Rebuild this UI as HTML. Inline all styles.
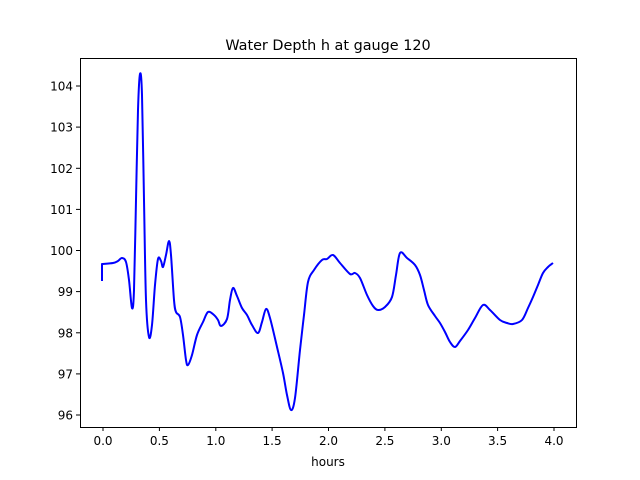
<!DOCTYPE html>
<html><head><meta charset="utf-8"><style>body{margin:0;background:#fff}svg{display:block}text{font-family:"DejaVu Sans","Liberation Sans",sans-serif;fill:#000}</style></head>
<body>
<svg width="640" height="480" viewBox="0 0 640 480">
<rect width="640" height="480" fill="#fff"/>
<polyline id="pl" fill="none" stroke="#0000ff" stroke-width="2" stroke-linejoin="round" points="102,281 102,264 113,263 118,261 122,258 126,262 129,280 132,308 134,290 136,200 138,110 140,74 142,95 144,200 146,300 149,337 152,325 155,285 158,259 161,261 163,267 166,255 169,241 171,255 174,300 176,312 180,317 183,335 186,360 188,365 192,355 197,335 203,322 208,312 214,315 218,320 221,326 227,319 230,300 233,288 237,296 242,308 247,315 252,325 258,333 262,322 266,309 270,318 277,347 283,373 287,395 291,410 295,398 300,350 304,315 308,282 314,270 322,260 327,259 333,255 340,263 350,274 355,273 360,278 367,295 373,306 378,310 385,307 392,297 396,275 400,253 407,258 415,265 420,275 424,290 428,305 435,316 440,323 445,332 450,342 455,347 460,341 468,330 475,318 483,305 490,310 500,320 507,323 513,324 522,320 528,308 533,297 538,285 543,273 548,267 553,263"/>
<path id="sm" fill="none" stroke="#0000ff" stroke-width="2" stroke-linejoin="round" d=""/>
<rect x="80.5" y="58.5" width="496" height="369" fill="none" stroke="#000" stroke-width="1"/>
<g stroke="#000" stroke-width="1">
<line x1="103" y1="427" x2="103" y2="431"/><line x1="159.4" y1="427" x2="159.4" y2="431"/><line x1="215.8" y1="427" x2="215.8" y2="431"/><line x1="272.1" y1="427" x2="272.1" y2="431"/><line x1="328.5" y1="427" x2="328.5" y2="431"/><line x1="384.9" y1="427" x2="384.9" y2="431"/><line x1="441.3" y1="427" x2="441.3" y2="431"/><line x1="497.6" y1="427" x2="497.6" y2="431"/><line x1="554" y1="427" x2="554" y2="431"/>
<line x1="76" y1="415" x2="80" y2="415"/><line x1="76" y1="373.9" x2="80" y2="373.9"/><line x1="76" y1="332.8" x2="80" y2="332.8"/><line x1="76" y1="291.6" x2="80" y2="291.6"/><line x1="76" y1="250.5" x2="80" y2="250.5"/><line x1="76" y1="209.4" x2="80" y2="209.4"/><line x1="76" y1="168.3" x2="80" y2="168.3"/><line x1="76" y1="127.1" x2="80" y2="127.1"/><line x1="76" y1="86" x2="80" y2="86"/>
</g>
<g font-size="12" text-anchor="middle">
<text x="103" y="445">0.0</text><text x="159.4" y="445">0.5</text><text x="215.8" y="445">1.0</text><text x="272.1" y="445">1.5</text><text x="328.5" y="445">2.0</text><text x="384.9" y="445">2.5</text><text x="441.3" y="445">3.0</text><text x="497.6" y="445">3.5</text><text x="554" y="445">4.0</text>
<text x="328" y="466">hours</text>
</g>
<g font-size="12" text-anchor="end">
<text x="73" y="419.5">96</text><text x="73" y="378.4">97</text><text x="73" y="337.3">98</text><text x="73" y="296.1">99</text><text x="73" y="255">100</text><text x="73" y="213.9">101</text><text x="73" y="172.8">102</text><text x="73" y="131.6">103</text><text x="73" y="90.5">104</text>
</g>
<text x="328" y="50" font-size="14.4" text-anchor="middle">Water Depth h at gauge 120</text>
</svg>
<script>
(function(){
var pl=document.getElementById('pl');
var p=pl.getAttribute('points').trim().split(/\s+/).map(function(s){return s.split(',').map(Number);});
var d='M'+p[0][0]+','+p[0][1]+' L'+p[1][0]+','+p[1][1];
for(var i=1;i<p.length-1;i++){
var p0=p[i-1],p1=p[i],p2=p[i+1],p3=p[Math.min(i+2,p.length-1)];
if(i===1)p0=p1;
var c1=[p1[0]+(p2[0]-p0[0])/6,p1[1]+(p2[1]-p0[1])/6];
var c2=[p2[0]-(p3[0]-p1[0])/6,p2[1]-(p3[1]-p1[1])/6];
d+=' C'+c1.join(',')+' '+c2.join(',')+' '+p2.join(',');
}
document.getElementById('sm').setAttribute('d',d);
pl.setAttribute('stroke','none');
})();
</script>
</body></html>
